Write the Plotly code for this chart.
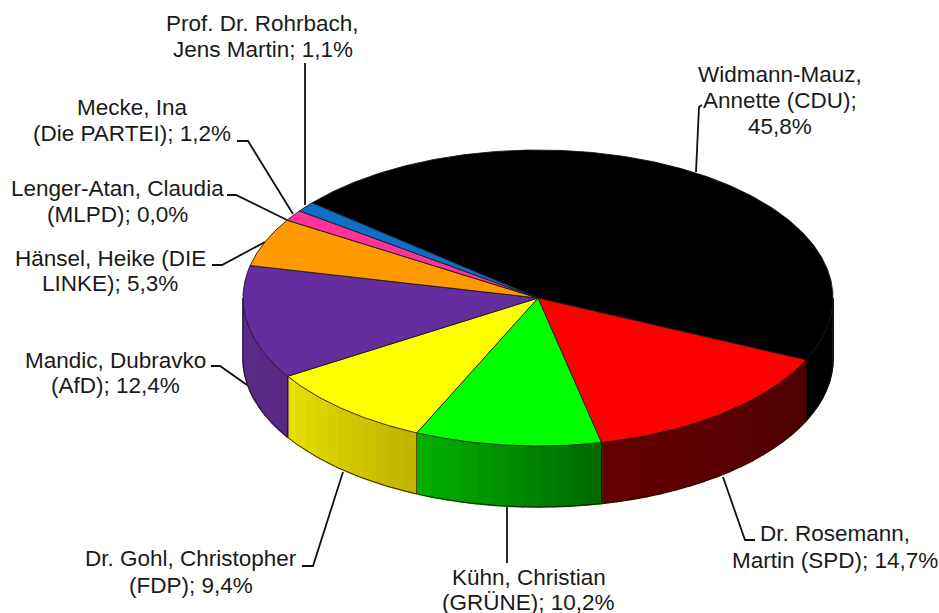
import numpy as np
import plotly.graph_objects as go

# ---- data ----
candidates = ["Widmann-Mauz, Annette (CDU)", "Dr. Rosemann, Martin (SPD)", "Kühn, Christian (GRÜNE)",
              "Dr. Gohl, Christopher (FDP)", "Mandic, Dubravko (AfD)", "Hänsel, Heike (DIE LINKE)",
              "Lenger-Atan, Claudia (MLPD)", "Mecke, Ina (Die PARTEI)", "Prof. Dr. Rohrbach, Jens Martin"]
shares = [45.8, 14.7, 10.2, 9.4, 12.4, 5.3, 0.0, 1.2, 1.1]
label_lines = [["Widmann-Mauz,", "Annette (CDU);", "{}"], ["Dr. Rosemann,", "Martin (SPD); {}"], ["Kühn, Christian", "(GRÜNE); {}"],
               ["Dr. Gohl, Christopher", "(FDP); {}"], ["Mandic, Dubravko", "(AfD); {}"], ["Hänsel, Heike (DIE", "LINKE); {}"],
               ["Lenger-Atan, Claudia", "(MLPD); {}"], ["Mecke, Ina", "(Die PARTEI); {}"], ["Prof. Dr. Rohrbach,", "Jens Martin; {}"]]
# ---- style / layout ----
top_colors = ["#000000", "#ff0000", "#00ff00", "#ffff00", "#662d9e", "#ff9900", "#7f7f7f", "#ff3399", "#0f6fc6"]
side_left = [(0, 0, 0), (100, 0, 0), (0, 178, 0), (232, 224, 0), (92, 44, 140), (200, 120, 0), (90, 90, 90), (200, 40, 120), (10, 80, 150)]
side_right = [(0, 0, 0), (78, 0, 0), (0, 104, 0), (192, 178, 0), (88, 40, 132), (200, 120, 0), (90, 90, 90), (200, 40, 120), (10, 80, 150)]
label_x = [780, 835, 528.5, 191, 115, 110, 117, 132, 262.5]
label_first_y = [74, 533, 577, 558, 360, 258, 188, 107, 23]
label_step = [26, 27, 25, 27, 25, 25, 26, 26, 26]
leaders = [
    [(696, 172), (699, 107), (702, 105)],
    [(723, 477), (745, 540), (755, 540)],
    [(507, 507), (507, 563)],
    [(343, 472), (313, 566), (302, 566)],
    [(247, 385), (220, 366), (211, 366)],
    [(265, 242), (222, 265), (212, 265)],
    [(287, 220), (236, 195), (227, 195)],
    [(293, 214), (248, 141), (237, 141)],
    [(305, 205), (305, 63)],
]
cx, cy, rx, ry, depth = 538, 298, 295, 148, 61
start_angle = -50.0


def ex(t):
    return cx + rx * np.sin(np.radians(t))


def ey(t):
    return cy - ry * np.cos(np.radians(t))


fig = go.Figure()
total = sum(shares)
spans = [360 * s / total for s in shares]
starts = start_angle + np.concatenate([[0], np.cumsum(spans)[:-1]])

# side wall: one thin quad per step, going right to left along the front rim
for s0, span, cl, cr in zip(starts, spans, side_left, side_right):
    a0, a1 = max(s0, 90), min(s0 + span, 270)
    if a1 <= a0:
        continue
    n = max(1, int((a1 - a0) / 3))
    edges = np.linspace(a0, a1, n + 1)
    for i in range(n):
        f = (i + 0.5) / n  # 0 at the slice's right end, 1 at its left
        col = "rgb(%d,%d,%d)" % tuple(round(cr[k] + (cl[k] - cr[k]) * f) for k in range(3))
        ts = np.linspace(edges[i], edges[i + 1], 4)
        xs = list(ex(ts)) + list(ex(ts[::-1]))
        ys = list(ey(ts)) + list(ey(ts[::-1]) + depth)
        fig.add_trace(go.Scatter(x=xs + xs[:1], y=ys + ys[:1], mode="lines", fill="toself", fillcolor=col,
                                 line=dict(color=col, width=1.6), hoverinfo="skip", showlegend=False))
    # outline of this wall
    ts = np.linspace(a0, a1, 40)
    xs = [ex(a0)] + list(ex(ts)) + [ex(a1)]
    ys = [ey(a0)] + list(ey(ts) + depth) + [ey(a1)]
    fig.add_trace(go.Scatter(x=xs, y=ys, mode="lines", line=dict(color="#1a1400", width=0.9),
                             hoverinfo="skip", showlegend=False))

# top faces
for name, s0, span, col in zip(candidates, starts, spans, top_colors):
    if span == 0:
        continue
    ts = np.linspace(s0, s0 + span, max(3, int(span * 2)))
    xs = [cx] + list(ex(ts)) + [cx]
    ys = [cy] + list(ey(ts)) + [cy]
    fig.add_trace(go.Scatter(x=xs, y=ys, mode="lines", fill="toself", fillcolor=col, name=name,
                             line=dict(color="#1a1a1a", width=0.9), showlegend=False, hoverinfo="name"))

# leader lines
for pts in leaders:
    fig.add_trace(go.Scatter(x=[p[0] for p in pts], y=[p[1] for p in pts], mode="lines",
                             line=dict(color="#111111", width=1.8), hoverinfo="skip", showlegend=False))

# labels
for lines, v, lx, ly, step in zip(label_lines, shares, label_x, label_first_y, label_step):
    value = f"{v:.1f}%".replace(".", ",")
    for i, line in enumerate(lines):
        fig.add_annotation(x=lx, y=ly + i * step, text=line.format(value), showarrow=False,
                           xanchor="center", yanchor="middle", align="center",
                           font=dict(family="Liberation Sans", size=22.5, color="#1a1a1a"))

fig.update_layout(width=939, height=613, autosize=False, margin=dict(l=0, r=0, t=0, b=0),
                  paper_bgcolor="white", plot_bgcolor="white", showlegend=False,
                  xaxis=dict(range=[0, 939], visible=False, fixedrange=True),
                  yaxis=dict(range=[613, 0], visible=False, fixedrange=True))
fig.write_html("out.html", config={"displayModeBar": False},
               post_script="document.body.style.margin='0';document.body.style.overflow='hidden';")
